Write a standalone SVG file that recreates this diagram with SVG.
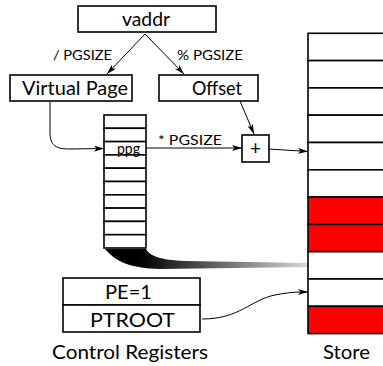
<svg xmlns="http://www.w3.org/2000/svg" width="383" height="366" viewBox="0 0 383 366">
<style>
.box{fill:#fff;stroke:#000;stroke-width:1.6}
.row{fill:#fff;stroke:#000;stroke-width:1.6}
.red{fill:#f00;stroke:#000;stroke-width:1.6}
.t{font-family:Lato,"Open Sans","DejaVu Sans",sans-serif;fill:#000;text-anchor:middle}
.big{font-size:19px}
.sm{font-size:14px}
.edge{fill:none;stroke:#000;stroke-width:1}
</style>
<defs>
<marker id="ah" viewBox="0 0 10 6" refX="10" refY="3" markerWidth="10" markerHeight="6" markerUnits="userSpaceOnUse" orient="auto">
<path d="M0,0 L10,3 L0,6 L2.5,3 Z" fill="#000"/>
</marker>
<linearGradient id="sh" gradientUnits="userSpaceOnUse" x1="140" y1="0" x2="308" y2="0">
<stop offset="0" stop-color="#000"/>
<stop offset="1" stop-color="#d8d8d8"/>
</linearGradient>
</defs>
<g id="shadow">
<path d="M105,249 C116,262 130,268 160,269 L308,267 L308,263 L185,261 C160,260 150,256 146,249 Z" fill="url(#sh)"/>
</g>
<g id="vaddr"><rect class="box" x="78" y="6" width="138" height="26"/><text class="t big" x="146" y="26" textLength="48" lengthAdjust="spacingAndGlyphs">vaddr</text></g>
<g id="virtual-page"><rect class="box" x="10" y="75" width="122" height="26"/><text class="t big" x="75" y="95" textLength="106" lengthAdjust="spacingAndGlyphs">Virtual Page</text></g>
<g id="offset"><rect class="box" x="159" y="75" width="99" height="26"/><text class="t big" x="217" y="95" textLength="50" lengthAdjust="spacingAndGlyphs">Offset</text></g>
<g id="plus"><rect class="box" x="242" y="135" width="27" height="27"/><text class="t big" x="255.5" y="155">+</text></g>
<g id="page-table">
<rect class="row" x="104" y="115" width="42" height="13.3"/>
<rect class="row" x="104" y="128.3" width="42" height="13.3"/>
<rect class="row" x="104" y="141.6" width="42" height="13.3"/>
<rect class="row" x="104" y="154.9" width="42" height="13.3"/>
<rect class="row" x="104" y="168.2" width="42" height="13.3"/>
<rect class="row" x="104" y="181.5" width="42" height="13.3"/>
<rect class="row" x="104" y="194.8" width="42" height="13.3"/>
<rect class="row" x="104" y="208.1" width="42" height="13.3"/>
<rect class="row" x="104" y="221.4" width="42" height="13.3"/>
<rect class="row" x="104" y="234.7" width="42" height="13.3"/>
<text class="t" style="font-size:16px" x="128.5" y="153.5" textLength="23" lengthAdjust="spacingAndGlyphs">ppg</text>
</g>
<g id="store">
<rect class="row" x="308" y="33.3" width="80" height="27.3"/>
<rect class="row" x="308" y="60.6" width="80" height="27.3"/>
<rect class="row" x="308" y="87.9" width="80" height="27.3"/>
<rect class="row" x="308" y="115.2" width="80" height="27.3"/>
<rect class="row" x="308" y="142.5" width="80" height="27.3"/>
<rect class="row" x="308" y="169.8" width="80" height="27.3"/>
<rect class="red" x="308" y="197.1" width="80" height="27.3"/>
<rect class="red" x="308" y="224.4" width="80" height="27.3"/>
<rect class="row" x="308" y="251.7" width="80" height="27.3"/>
<rect class="row" x="308" y="279" width="80" height="27.3"/>
<rect class="red" x="308" y="306.3" width="80" height="27.3"/>
<text class="t big" x="346.5" y="359" textLength="47" lengthAdjust="spacingAndGlyphs">Store</text>
</g>
<g id="control-registers">
<rect class="box" x="63" y="278" width="137" height="27"/>
<rect class="box" x="63" y="305" width="137" height="27"/>
<text class="t big" x="128.5" y="299" textLength="47" lengthAdjust="spacingAndGlyphs">PE=1</text>
<text class="t big" x="132.5" y="327" textLength="85" lengthAdjust="spacingAndGlyphs">PTROOT</text>
<text class="t big" x="130" y="359" textLength="156" lengthAdjust="spacingAndGlyphs">Control Registers</text>
</g>
<g id="connectors">
<path class="edge" d="M145,34 L107,74" marker-end="url(#ah)"/>
<path class="edge" d="M145,34 L184,74" marker-end="url(#ah)"/>
<text class="t sm" x="82.5" y="60" textLength="59" lengthAdjust="spacingAndGlyphs">/ PGSIZE</text>
<text class="t sm" x="210" y="60" textLength="66" lengthAdjust="spacingAndGlyphs">% PGSIZE</text>
<path class="edge" d="M50,102 L50,132 C50,146 56,149 70,149 L104,148.5" marker-end="url(#ah)"/>
<path class="edge" d="M146,148 L242,148" marker-end="url(#ah)"/>
<text class="t sm" x="190" y="145" textLength="64" lengthAdjust="spacingAndGlyphs">* PGSIZE</text>
<path class="edge" d="M240,101 L254,134" marker-end="url(#ah)"/>
<path class="edge" d="M269,149 L308,151.5" marker-end="url(#ah)"/>
<path class="edge" d="M202,319 C240,319 250,300 275,295 C290,292 298,292 308,292" marker-end="url(#ah)"/>
</g>
</svg>
